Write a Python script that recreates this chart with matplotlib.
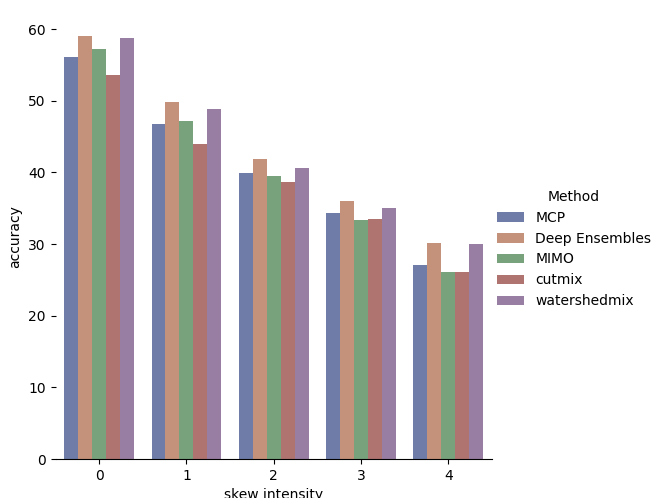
import matplotlib
matplotlib.use("Agg")
import matplotlib.pyplot as plt
import seaborn as sns
import pandas as pd

skew = [0, 1, 2, 3, 4]
methods = ["MCP", "Deep Ensembles", "MIMO", "cutmix", "watershedmix"]
mcp = [56.1, 46.7, 39.9, 34.4, 27.1]
deep_ensembles = [59.1, 49.9, 41.9, 36.0, 30.1]
mimo = [57.2, 47.2, 39.5, 33.4, 26.1]
cutmix = [53.6, 43.9, 38.6, 33.5, 26.1]
watershedmix = [58.8, 48.9, 40.6, 35.1, 30.0]

values = [mcp, deep_ensembles, mimo, cutmix, watershedmix]
rows = []
for m, vals in zip(methods, values):
    for s, v in zip(skew, vals):
        rows.append({"skew intensity": s, "accuracy": v, "Method": m})
df = pd.DataFrame(rows)

fig = plt.figure(figsize=(6.64, 4.98), dpi=100)
ax = fig.add_axes([55.5 / 664, 39 / 498, (492 - 55.5) / 664, (459 - 14.6) / 498])
sns.barplot(data=df, x="skew intensity", y="accuracy", hue="Method",
            hue_order=methods, palette="dark", alpha=0.6, ax=ax, errorbar=None)
ax.set_xlim(-0.5, 4.5)
ax.set_ylim(0, 62.03)
ax.set_yticks([0, 10, 20, 30, 40, 50, 60])
for s in ["top", "right", "left"]:
    ax.spines[s].set_visible(False)

handles, labels = ax.get_legend_handles_labels()
ax.get_legend().remove()
fig.legend(handles, labels, title="Method", loc="center left",
           bbox_to_anchor=(484 / 664, 0.5), frameon=False)

fig.savefig("out.png", dpi=100)
